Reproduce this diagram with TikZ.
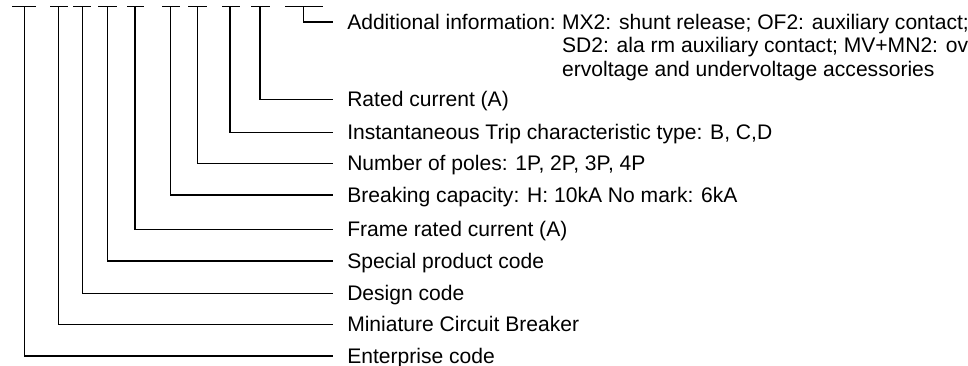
\documentclass[tikz,border=0pt]{standalone}
\usepackage{fontspec}
\setmainfont{Liberation Sans}
\tikzset{
  lbl/.style={anchor=west, inner xsep=10.5pt, inner ysep=0pt,
    text height=11.3pt, text depth=0pt},
  conn/.style={line width=0.8pt},
}
\begin{document}
\begin{tikzpicture}[x=0.75pt, y=-0.75pt, font=\fontsize{15.8}{17.55}\selectfont]
  \useasboundingbox (0,0) rectangle (968,366);

  % labels
  \node[lbl] (addl) at (333,22) {Additional information:};
  \node[anchor=base west, inner sep=0pt, xshift=-6.1pt] (addlx) at (addl.base east)
    {\begin{tabular}[t]{@{}l@{}}
      MX2: shunt release; OF2: auxiliary contact;\\
      SD2: ala rm auxiliary contact; MV+MN2: ov\\
      ervoltage and undervoltage accessories
    \end{tabular}};
  \node[lbl] (rated) at (333,99.3) {Rated current (A)};
  \node[lbl] (trip) at (333,132.3) {Instantaneous Trip characteristic type: B, C,D};
  \node[lbl] (poles) at (333,163.3) {Number of poles: 1P, 2P, 3P, 4P};
  \node[lbl] (brk) at (333,195) {Breaking capacity: H: 10kA No mark: 6kA};
  \node[lbl] (frame) at (333,229.3) {Frame rated current (A)};
  \node[lbl] (special) at (333,261) {Special product code};
  \node[lbl] (design) at (333,293.3) {Design code};
  \node[lbl] (mcb) at (333,324.3) {Miniature Circuit Breaker};
  \node[lbl] (ent) at (333,356) {Enterprise code};

  % code positions and leaders
  \foreach \x/\l/\r/\n in {24.3/12/36/ent, 58.3/50/68/mcb, 82.3/73/91/design,
      107.7/98/117/special, 135/127/144/frame, 170.7/162/180/brk,
      197.7/188/207/poles, 230/222/240/trip, 260/251/270/rated, 303.3/285/323/addl} {
    \coordinate (top-\n) at (\x,6.7);
    \draw[conn] (\l,6.7) -- (\r,6.7);
    \draw[conn] (top-\n) |- (\n.west);
  }
\end{tikzpicture}
\end{document}
